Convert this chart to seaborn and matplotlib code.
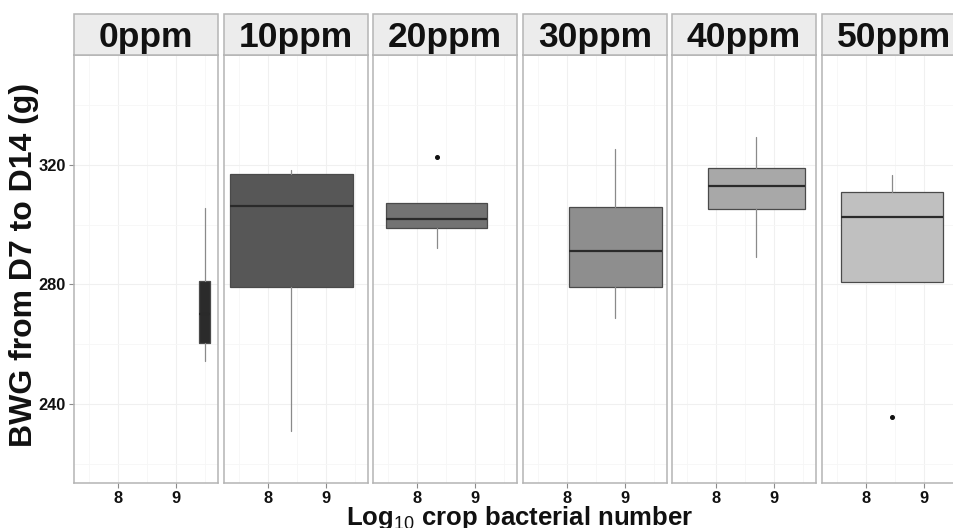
import numpy as np
import pandas as pd
import matplotlib
matplotlib.use("Agg")
import matplotlib.pyplot as plt
import seaborn as sns
from matplotlib.patches import Rectangle
from matplotlib.ticker import FixedLocator

# ---------------- data ----------------
doses = ["0ppm", "10ppm", "20ppm", "30ppm", "40ppm", "50ppm"]
log10_count = [9.49, 8.40, 8.34, 8.83, 8.69, 8.45]      # box centre on x
box_span = [0.20, 2.12, 1.74, 1.61, 1.67, 1.76]         # x-range covered by the box
whisker_low = [254.4, 230.8, 292.3, 268.7, 289.2, 280.9]
q1 = [260.5, 279.3, 299.0, 279.2, 305.2, 280.9]
median = [270.0, 306.2, 301.9, 291.2, 313.0, 302.5]
q3 = [281.2, 317.1, 307.4, 306.0, 318.9, 310.9]
whisker_high = [305.7, 318.3, 307.4, 325.5, 329.4, 316.8]
outliers = [[], [], [322.8], [], [], [235.5]]
x_ticks = [8, 9]
y_ticks = [240, 280, 320]

fill_colors = ["#2b2b2b", "#575757", "#737373", "#8e8e8e", "#a8a8a8", "#c0c0c0"]

df = pd.DataFrame({
    "dose": doses, "x": log10_count, "w": box_span,
    "lo": whisker_low, "q1": q1, "med": median, "q3": q3, "hi": whisker_high,
    "out": outliers, "fill": fill_colors,
})

# ---------------- style ----------------
sns.set_theme(style="white")
plt.rcParams["font.family"] = ["Liberation Sans", "DejaVu Sans"]
plt.rcParams["mathtext.fontset"] = "custom"
plt.rcParams["mathtext.rm"] = "Liberation Sans"
plt.rcParams["mathtext.it"] = "Liberation Sans"
plt.rcParams["mathtext.bf"] = "Liberation Sans:bold"

W, H = 954, 528


def draw_box(data, color=None, **kw):
    ax = plt.gca()
    r = data.iloc[0]
    stats = [dict(med=r["med"], q1=r["q1"], q3=r["q3"], whislo=r["lo"],
                  whishi=r["hi"], fliers=np.array(r["out"], dtype=float))]
    ax.bxp(stats, positions=[r["x"]], widths=[r["w"]], patch_artist=True,
           showcaps=False, manage_ticks=False,
           boxprops=dict(facecolor=r["fill"], edgecolor="#4a4a4a", linewidth=0.9),
           medianprops=dict(color="#2a2a2a", linewidth=1.6),
           whiskerprops=dict(color="#8a8a8a", linewidth=0.9),
           flierprops=dict(marker="o", markersize=2.6, markerfacecolor="#111111",
                           markeredgecolor="#111111", linestyle="none"))


g = sns.FacetGrid(df, col="dose", col_order=doses, sharex=True, sharey=True,
                  height=4, aspect=0.4, despine=False)
g.map_dataframe(draw_box)
g.set_titles("")
g.set_axis_labels("", "")
fig = g.figure
fig.set_size_inches(W / 100, H / 100)

panel_left = [74, 224, 373, 523, 672, 822]
panel_w = 144
top_px, bottom_px = 55, 483
strip_top = 14

for i, ax in enumerate(g.axes.flat):
    ax.set_position([panel_left[i] / W, (H - bottom_px) / H,
                     panel_w / W, (bottom_px - top_px) / H])
    ax.set_xlim(7.24, 9.72)
    ax.set_ylim(213.56, 356.8)
    ax.xaxis.set_major_locator(FixedLocator(x_ticks))
    ax.xaxis.set_minor_locator(FixedLocator([7.5, 8.5, 9.5]))
    ax.yaxis.set_major_locator(FixedLocator(y_ticks))
    ax.yaxis.set_minor_locator(FixedLocator([220, 260, 300, 340]))
    ax.set_axisbelow(True)
    ax.grid(which="major", color="#f0f0f0", linewidth=0.8)
    ax.grid(which="minor", color="#f6f6f6", linewidth=0.6)
    for s in ax.spines.values():
        s.set_color("#b4b4b4")
        s.set_linewidth(1.1)
    ax.tick_params(which="major", axis="both", length=3.5, width=0.8,
                   color="#8a8a8a", labelsize=11.8, labelcolor="#111111", pad=2.2)
    ax.tick_params(which="minor", length=0)
    ax.tick_params(axis="y", left=(i == 0), labelleft=(i == 0))
    ax.tick_params(axis="x", bottom=True)
    for lab in ax.get_xticklabels() + ax.get_yticklabels():
        lab.set_fontweight("bold")
    # strip
    fig.patches.append(Rectangle((panel_left[i] / W, (H - top_px) / H),
                                 panel_w / W, (top_px - strip_top) / H,
                                 transform=fig.transFigure, facecolor="#ececec",
                                 edgecolor="#b4b4b4", linewidth=1.1, zorder=0))
    fig.text((panel_left[i] + panel_w / 2) / W, (H - 47) / H, doses[i],
             ha="center", va="baseline", fontsize=25.5, fontweight="bold",
             color="#111111")

fig.text(24 / W, (H - 265) / H, "BWG from D7 to D14 (g)", rotation=90,
         ha="center", va="center", fontsize=23, fontweight="bold", color="#111111")
fig.text(520 / W, (H - 525) / H, r"Log$_{10}$ crop bacterial number",
         ha="center", va="baseline", fontsize=18.5, fontweight="bold", color="#111111")

fig.savefig("out.png", dpi=100)
